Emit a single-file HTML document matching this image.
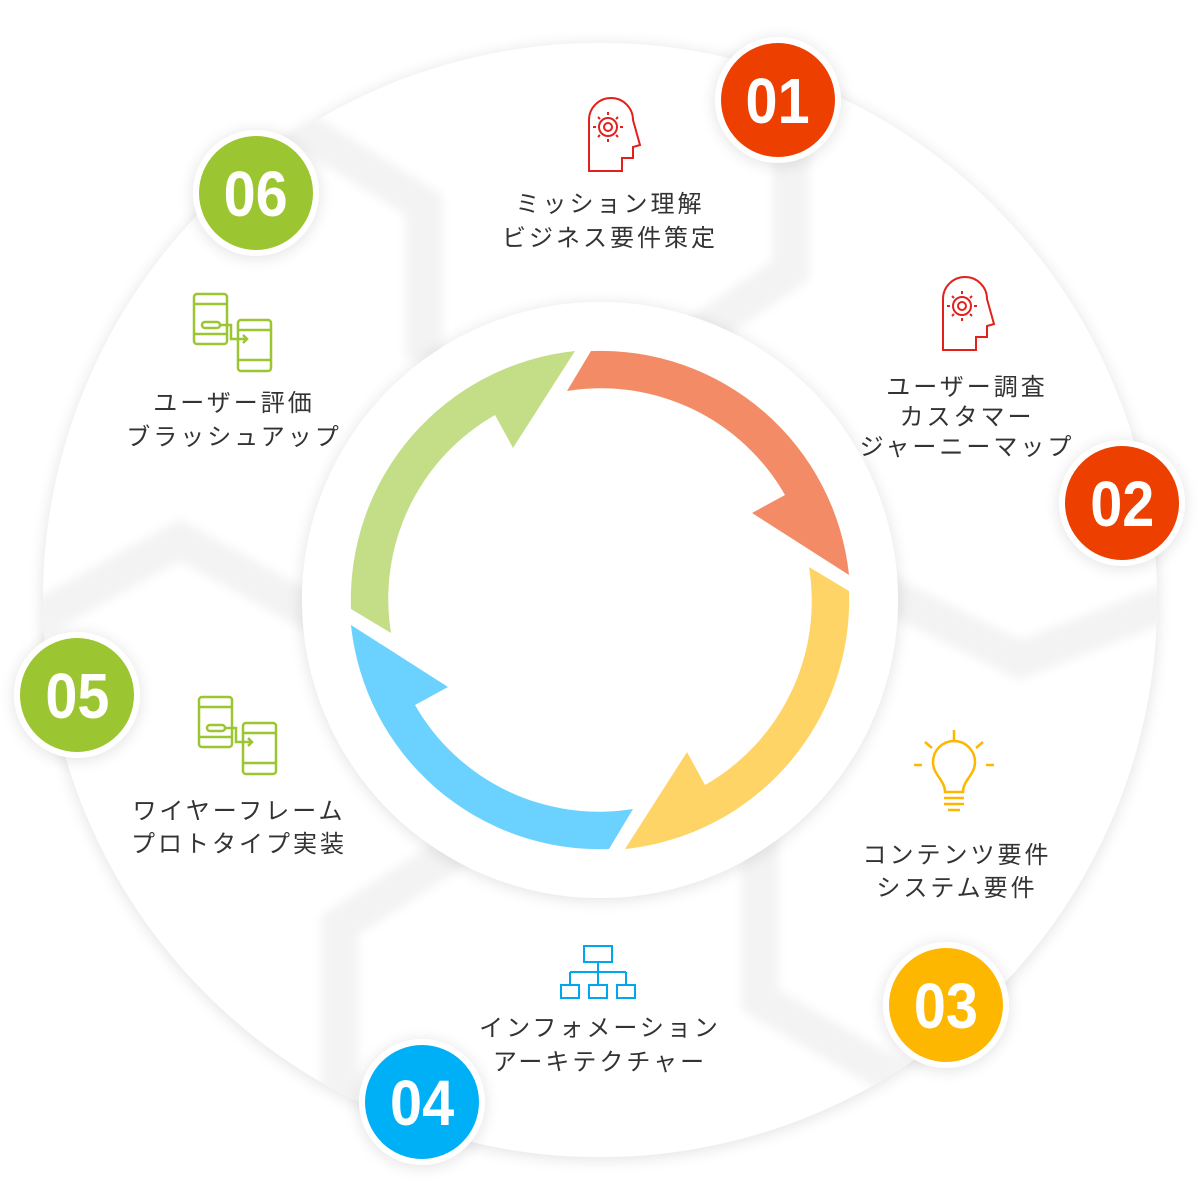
<!DOCTYPE html>
<html><head><meta charset="utf-8"><style>
html,body{margin:0;padding:0;background:#fff;}
svg{display:block}
text{font-family:"Liberation Sans","Noto Sans CJK JP",sans-serif;}
.l{font-size:24px;fill:#333;letter-spacing:3px;text-anchor:middle;}
.n{font-size:64px;font-weight:bold;fill:#fff;text-anchor:middle;}
</style></head><body>
<svg width="1200" height="1200" viewBox="0 0 1200 1200" xmlns="http://www.w3.org/2000/svg">
<defs>
<filter id="sh" x="-20%" y="-20%" width="140%" height="140%"><feGaussianBlur in="SourceAlpha" stdDeviation="8"/><feOffset dy="2"/><feComponentTransfer><feFuncA type="linear" slope="0.12"/></feComponentTransfer><feMerge><feMergeNode/><feMergeNode in="SourceGraphic"/></feMerge></filter>
<filter id="bl"><feGaussianBlur stdDeviation="5"/></filter>
<clipPath id="cc"><circle cx="600" cy="600" r="557"/></clipPath>
</defs>
<circle cx="600" cy="600" r="557" fill="#fff" filter="url(#sh)"/>
<g clip-path="url(#cc)" fill="none" stroke="#f3f3f3" stroke-width="36" stroke-linejoin="miter" filter="url(#bl)">
<polyline points="424,360 424,205 300,128 230,85"/>
<polyline points="660,360 791,270 791,20"/>
<polyline points="840,570 1020,660 1200,590"/>
<polyline points="760,800 760,1000 950,1110"/>
<polyline points="480,835 340,925 340,1200"/>
<polyline points="0,640 180,540 345,632"/>
</g>
<circle cx="600" cy="600" r="298" fill="#fff" filter="url(#sh)"/>
<g transform="translate(600,600)">
<path d="M-9,-249 A250,250 0 0 1 249,-25 L152,-87 L185,-105 A212,212 0 0 0 -33,-209 Z" fill="#f38c66"/>
<path transform="rotate(90)" d="M-9,-249 A250,250 0 0 1 249,-25 L152,-87 L185,-105 A212,212 0 0 0 -33,-209 Z" fill="#ffd466"/>
<path transform="rotate(180)" d="M-9,-249 A250,250 0 0 1 249,-25 L152,-87 L185,-105 A212,212 0 0 0 -33,-209 Z" fill="#6bd1fe"/>
<path transform="rotate(270)" d="M-9,-249 A250,250 0 0 1 249,-25 L152,-87 L185,-105 A212,212 0 0 0 -33,-209 Z" fill="#c4de88"/>
</g>
<g filter="url(#sh)">
<circle cx="778" cy="100" r="63" fill="#fff"/><circle cx="1122" cy="503" r="63" fill="#fff"/>
<circle cx="946" cy="1005" r="63" fill="#fff"/><circle cx="422" cy="1102" r="63" fill="#fff"/>
<circle cx="77" cy="695" r="63" fill="#fff"/><circle cx="256" cy="193" r="63" fill="#fff"/>
</g>
<circle cx="778" cy="100" r="57" fill="#ec3f00"/><circle cx="1122" cy="503" r="57" fill="#ec3f00"/>
<circle cx="946" cy="1005" r="57" fill="#fdb700"/><circle cx="422" cy="1102" r="57" fill="#00b0f6"/>
<circle cx="77" cy="695" r="57" fill="#9bc531"/><circle cx="256" cy="193" r="57" fill="#9bc531"/>
<g transform="scale(0.9,1)">
<text class="n" x="864" y="123">01</text><text class="n" x="1247" y="526">02</text>
<text class="n" x="1051" y="1028">03</text><text class="n" x="469" y="1125">04</text>
<text class="n" x="86" y="718">05</text><text class="n" x="284" y="216">06</text>
</g>
<text class="l" x="610" y="212">ミッション理解</text><text class="l" x="610" y="246">ビジネス要件策定</text>
<text class="l" x="967" y="395">ユーザー調査</text><text class="l" x="967" y="425">カスタマー</text><text class="l" x="967" y="455">ジャーニーマップ</text>
<text class="l" x="957" y="863">コンテンツ要件</text><text class="l" x="957" y="896">システム要件</text>
<text class="l" x="600" y="1036">インフォメーション</text><text class="l" x="600" y="1070">アーキテクチャー</text>
<text class="l" x="239" y="819">ワイヤーフレーム</text><text class="l" x="239" y="852">プロトタイプ実装</text>
<text class="l" x="234" y="411">ユーザー評価</text><text class="l" x="234" y="445">ブラッシュアップ</text>
<g id="head" fill="none" stroke="#e2211c" stroke-width="2">
<path d="M589,172 V120 A22,22 0 0 1 633,120 L640,145 L633,147 V158 H622 V171 H589"/>
<circle cx="608" cy="127" r="9"/><circle cx="608" cy="127" r="4"/>
<path d="M608,115 v-3 M608,139 v3 M596,127 h-3 M620,127 h3 M600,119 l-2,-2 M616,119 l2,-2 M600,135 l-2,2 M616,135 l2,2"/>
</g>
<use href="#head" transform="translate(354,179)"/>
<g fill="none" stroke="#fdb700" stroke-width="2.5">
<path d="M945,792 C945,780 933,775 933,762 A21,21 0 0 1 975,762 C975,775 963,780 963,792 Z"/>
<path d="M944,798 h20 M944,804 h20 M948,810 h12"/>
<path d="M954,740 v-10 M932,748 l-7,-6 M976,748 l7,-6 M922,765 h-8 M986,765 h8"/>
</g>
<g fill="none" stroke="#00a7ec" stroke-width="2">
<rect x="584" y="946" width="28" height="16"/><path d="M598,962 v10 M570,972 h56 M570,972 v13 M598,972 v13 M626,972 v13"/>
<rect x="561" y="985" width="18" height="13"/><rect x="589" y="985" width="18" height="13"/><rect x="617" y="985" width="18" height="13"/>
</g>
<g id="ph" fill="none" stroke="#9bc531" stroke-width="2.5">
<rect x="199" y="697" width="33" height="50" rx="3"/><rect x="243" y="723" width="33" height="51" rx="3"/>
<path d="M199,707 h33 M199,737 h33 M243,733 h33 M243,763 h33"/>
<rect x="207" y="725" width="18" height="6" rx="3"/><path d="M225,728 h11 v14 h16 M248,738 l4,4 -4,4"/>
</g>
<use href="#ph" transform="translate(-5,-403)"/>
</svg>
</body></html>
